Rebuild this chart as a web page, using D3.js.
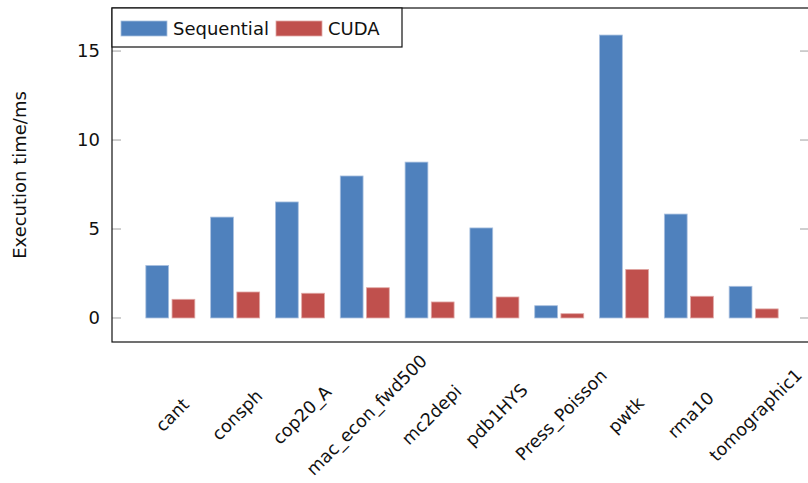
<!DOCTYPE html>
<html>
<head>
<meta charset="utf-8">
<script src="https://cdn.jsdelivr.net/npm/d3@7"></script>
<style>
  html, body { margin: 0; padding: 0; background: #fff; }
  svg { display: block; font-family: "DejaVu Sans", sans-serif; }
</style>
</head>
<body>
<svg id="chart" width="808" height="483"></svg>
<script>
// Benchmark matrices and measured execution times (ms)
const categories = ["cant", "consph", "cop20_A", "mac_econ_fwd500", "mc2depi",
                    "pdb1HYS", "Press_Poisson", "pwtk", "rma10", "tomographic1"];
const sequential = [2.95, 5.67, 6.52, 7.98, 8.76, 5.06, 0.69, 15.9, 5.84, 1.78];
const cuda       = [1.05, 1.46, 1.39, 1.70, 0.90, 1.18, 0.24, 2.73, 1.22, 0.51];
const seriesNames = ["Sequential", "CUDA"];
const yTicks = [0, 5, 10, 15];

const colors = { Sequential: "#4f81bd", CUDA: "#c0504d" };
const strokes = { Sequential: "#a9c0df", CUDA: "#e0a8a6" };

const svg = d3.select("#chart");
const plot = { left: 112, right: 812, top: 8, bottom: 342 };

const x = d3.scalePoint().domain(categories)
  .range([plot.left, plot.right]).padding(0.9);
const xs = d3.scaleBand().domain(seriesNames).range([-24.5, 24.5]).paddingInner(0.13);
const y = d3.scaleLinear().domain([-1.35, 17.42]).range([plot.bottom, plot.top]);

const rows = categories.map((c, i) => ({ cat: c, Sequential: sequential[i], CUDA: cuda[i] }));

// Tick marks on both sides, drawn inward
const tickG = svg.append("g");
yTicks.forEach(t => {
  tickG.append("line").attr("x1", plot.left).attr("x2", plot.left + 9)
    .attr("y1", y(t)).attr("y2", y(t)).attr("stroke", "#b0b0b0").attr("stroke-width", 1.2);
  tickG.append("line").attr("x1", plot.right - 12).attr("x2", plot.right)
    .attr("y1", y(t)).attr("y2", y(t)).attr("stroke", "#b0b0b0").attr("stroke-width", 1.2);
});

// Y axis labels
const yAxis = d3.axisLeft(y).tickValues(yTicks).tickSize(0).tickPadding(12);
const yg = svg.append("g").attr("transform", `translate(${plot.left},0)`).call(yAxis);
yg.select(".domain").remove();
yg.selectAll("text").attr("font-size", 18).attr("fill", "#111")
  .attr("font-family", "DejaVu Sans, sans-serif");

// Bars
const groups = svg.append("g").selectAll("g").data(rows).join("g")
  .attr("transform", d => `translate(${x(d.cat)},0)`);
groups.selectAll("rect").data(d => seriesNames.map(s => ({ s, v: d[s] }))).join("rect")
  .attr("x", d => xs(d.s))
  .attr("width", xs.bandwidth())
  .attr("y", d => y(d.v))
  .attr("height", d => y(0) - y(d.v))
  .attr("fill", d => colors[d.s])
  .attr("stroke", d => strokes[d.s])
  .attr("stroke-width", 0.8);

// Frame (right side lies beyond the visible area)
svg.append("rect")
  .attr("x", plot.left).attr("y", plot.top)
  .attr("width", plot.right - plot.left).attr("height", plot.bottom - plot.top)
  .attr("fill", "none").attr("stroke", "#111").attr("stroke-width", 1.2);

// Rotated category labels, centred under each group
svg.append("g").selectAll("text").data(categories).join("text")
  .attr("transform", d => `translate(${x(d) + 2},415) rotate(-45)`)
  .attr("text-anchor", "middle")
  .attr("dominant-baseline", "central")
  .attr("font-size", 17.5)
  .attr("fill", "#111")
  .text(d => d);

// Y axis title
svg.append("text")
  .attr("transform", "translate(19,175) rotate(-90)")
  .attr("text-anchor", "middle")
  .attr("dominant-baseline", "central")
  .attr("font-size", 18)
  .attr("fill", "#111")
  .text("Execution time/ms");

// Legend
const lg = svg.append("g");
lg.append("rect").attr("x", plot.left).attr("y", plot.top)
  .attr("width", 290).attr("height", 39)
  .attr("fill", "#fff").attr("stroke", "#111").attr("stroke-width", 1.2);
const legendItems = [
  { s: "Sequential", sx: 121, tx: 173 },
  { s: "CUDA", sx: 276, tx: 328 }
];
legendItems.forEach(it => {
  lg.append("rect").attr("x", it.sx).attr("y", 21).attr("width", 46).attr("height", 15)
    .attr("fill", colors[it.s]).attr("stroke", strokes[it.s]).attr("stroke-width", 0.8);
  lg.append("text").attr("x", it.tx).attr("y", 28.5)
    .attr("dominant-baseline", "central")
    .attr("font-size", 18).attr("fill", "#111").text(it.s);
});
</script>
</body>
</html>
